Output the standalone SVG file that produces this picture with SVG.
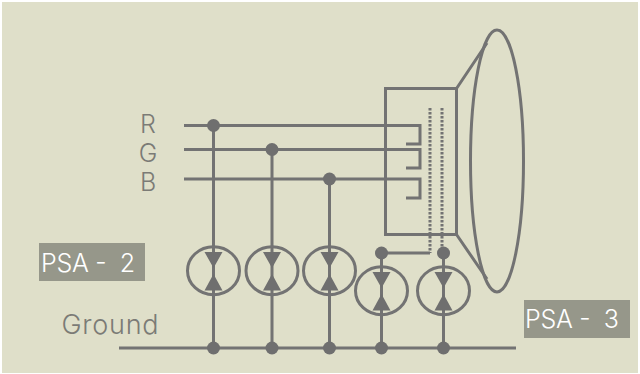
<svg xmlns="http://www.w3.org/2000/svg" width="640" height="374" viewBox="0 0 640 374">
<style>
.w{fill:none;stroke:#737373;stroke-width:3}
.t{fill:none;stroke:#737373;stroke-width:3}
.d{fill:none;stroke:#737373;stroke-width:3;stroke-dasharray:2.4 1.6}
.j{fill:#6f6f6f}
.h{fill:#6f6f6f}
.c{fill:none;stroke:#737373;stroke-width:3}
text{font-family:"Inter","Liberation Sans",sans-serif;font-weight:300}
.l{fill:#7b7b76;font-size:25px;text-anchor:middle}
.p{fill:#fff;font-size:25px;white-space:pre}
.b{fill:#96978a}
</style>
<rect width="640" height="374" fill="#fff"/>
<rect x="2" y="2" width="636" height="371" fill="#dfdfc9"/>
<g id="connectors">
<path class="w" d="M184 125.500H420V144H406M184 149.500H420V168H406M184 179H420V198H406"/>
<path class="w" d="M119 348H516"/>
<path class="w" d="M213.500 125.500V348M272 149.500V348M329.500 179V348M381.500 253V348M443.500 253V348"/>
<path class="w" d="M381.500 253H430"/>
<path class="d" d="M430 108V253M442 108V253"/>
</g>
<g id="tube">
<rect class="t" x="385.500" y="88.500" width="71" height="146"/>
<ellipse class="t" cx="497" cy="161" rx="26.500" ry="131"/>
<path class="t" d="M456.500 88.500L487 43M456.500 234.500L487 279"/>
</g>
<g id="node-r"><circle class="j" cx="213.500" cy="125.500" r="6.500"/></g>
<g id="node-g"><circle class="j" cx="272" cy="149.500" r="6.500"/></g>
<g id="node-b"><circle class="j" cx="329.500" cy="179" r="6.500"/></g>
<g id="node-psa3a"><circle class="j" cx="381.500" cy="253" r="6.500"/></g>
<g id="node-psa3b"><circle class="j" cx="443.500" cy="253" r="6.500"/></g>
<g id="ground-joints">
<circle class="j" cx="213.500" cy="348" r="6.500"/><circle class="j" cx="272" cy="348" r="6.500"/><circle class="j" cx="329.500" cy="348" r="6.500"/><circle class="j" cx="381.500" cy="348" r="6.500"/><circle class="j" cx="443.500" cy="348" r="6.500"/>
</g>
<g id="valve-1"><ellipse class="c" cx="213.500" cy="270.700" rx="26" ry="24"/><path class="h" d="M204.500 252H222.500L213.500 268ZM204.500 290.500H222.500L213.500 274Z"/></g>
<g id="valve-2"><ellipse class="c" cx="272" cy="270.700" rx="26" ry="24"/><path class="h" d="M263 252H281L272 268ZM263 290.500H281L272 274Z"/></g>
<g id="valve-3"><ellipse class="c" cx="329.500" cy="270.700" rx="26" ry="24"/><path class="h" d="M320.500 252H338.500L329.500 268ZM320.500 290.500H338.500L329.500 274Z"/></g>
<g id="valve-4"><ellipse class="c" cx="381.500" cy="290.700" rx="26" ry="24"/><path class="h" d="M372.500 272H390.500L381.500 288ZM372.500 310.500H390.500L381.500 294Z"/></g>
<g id="valve-5"><ellipse class="c" cx="443.500" cy="290.700" rx="26" ry="24"/><path class="h" d="M434.500 272H452.500L443.500 288ZM434.500 310.500H452.500L443.500 294Z"/></g>
<g id="label-r"><text class="l" x="148" y="133">R</text></g>
<g id="label-g"><text class="l" x="148" y="162">G</text></g>
<g id="label-b"><text class="l" x="148" y="191">B</text></g>
<g id="label-ground"><text class="l" x="110" y="334" style="font-size:27px" textLength="97">Ground</text></g>
<g id="psa-2"><rect class="b" x="39" y="243" width="106" height="38"/><text class="p" x="41" y="272" textLength="94">PSA -  2</text></g>
<g id="psa-3"><rect class="b" x="524" y="300" width="106" height="38"/><text class="p" x="525" y="328" textLength="94">PSA -  3</text></g>
</svg>
